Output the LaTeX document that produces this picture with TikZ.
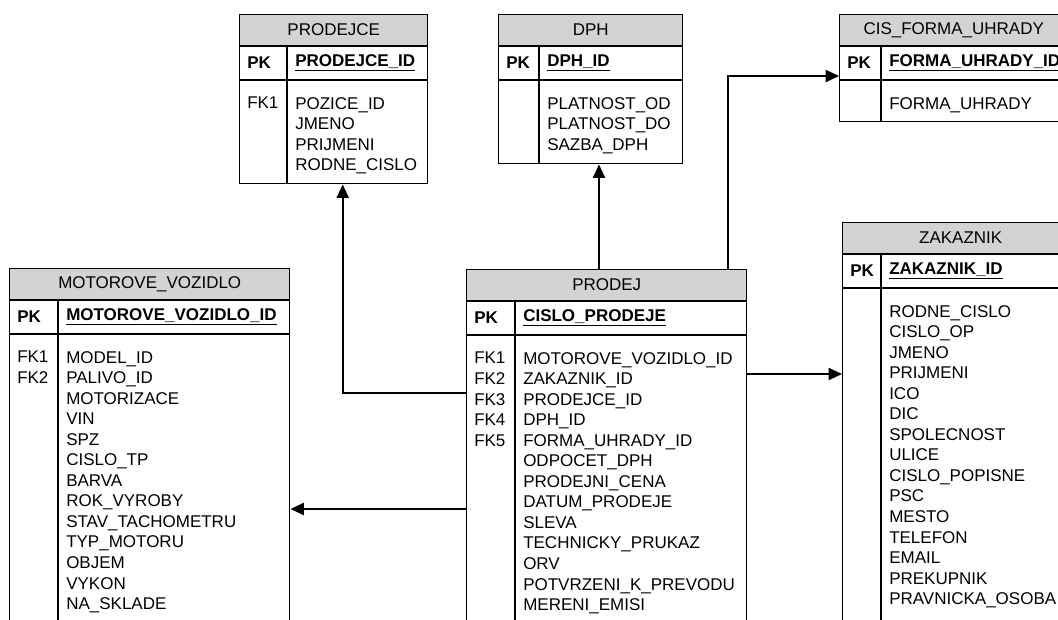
\documentclass[tikz,border=0pt]{standalone}
\usepackage{fontspec}
\setmainfont{Liberation Sans}
\usepackage{xcolor}
\usepackage{tikz}
\usetikzlibrary{calc}
\usetikzlibrary{arrows.meta}

\definecolor{headgray}{HTML}{D3D3D3}
\tikzset{
  tablebox/.style={draw, line width=1.1pt, rectangle, inner sep=0pt, anchor=north west},
  rule/.style={line width=1.1pt},
  celltext/.style={font=\fontsize{12.75}{15.4}\selectfont, inner sep=0pt},
  coltext/.style={celltext, anchor=north west, align=left},
  fk/.style={line width=1.4pt, -{Triangle[length=10pt,width=9pt]}},
}

% #1 name, #2 top left, #3 width, #4 height, #5 divider, #6 title, #7 key, #8 fk column, #9 columns
\newcommand{\ertable}[9]{%
  \fill[headgray] #2 rectangle ++(#3,32);
  \node[tablebox, minimum width=#3*0.75pt, minimum height=#4*0.75pt] (#1) at #2 {};
  \draw[rule] ($(#1.north west)+(0,32)$) -- ($(#1.north east)+(0,32)$);
  \draw[rule] ($(#1.north west)+(0,66)$) -- ($(#1.north east)+(0,66)$);
  \draw[rule] ($(#1.north west)+(#5,32)$) -- ($(#1.south west)+(#5,0)$);
  \node[celltext] (#1-title) at ($(#1.north)+(0,16)$) {#6};
  \node[celltext, anchor=west] (#1-pk) at ($(#1.north west)+(8,49)$) {\textbf{PK}};
  \node[celltext, anchor=west] (#1-key) at ($(#1.north west)+(#5+8,49)$) {\underline{\textbf{#7}}};
  \node[coltext] (#1-fk) at ($(#1.north west)+(8,83)$) {#8};
  \node[coltext] (#1-cols) at ($(#1.north west)+(#5+8,83)$) {#9};
}

\begin{document}
\begin{tikzpicture}[x=0.75pt, y=-0.75pt]
\useasboundingbox (0,0) rectangle (1058,619);
\clip (0,0) rectangle (1058,619);
% tables
\ertable{prodejce}{(239,14)}{188}{169}{48}{PRODEJCE}{PRODEJCE\_ID}{FK1}
  {POZICE\_ID\\JMENO\\PRIJMENI\\RODNE\_CISLO}
\ertable{dph}{(498,14)}{184}{149}{41}{DPH}{DPH\_ID}{}
  {PLATNOST\_OD\\PLATNOST\_DO\\SAZBA\_DPH}
\ertable{cis}{(839,14)}{228}{107}{42}{CIS\_FORMA\_UHRADY}{FORMA\_UHRADY\_ID}{}
  {FORMA\_UHRADY}
\ertable{vozidlo}{(9,268)}{280}{380}{49}{MOTOROVE\_VOZIDLO}{MOTOROVE\_VOZIDLO\_ID}{FK1\\FK2}
  {MODEL\_ID\\PALIVO\_ID\\MOTORIZACE\\VIN\\SPZ\\CISLO\_TP\\BARVA\\ROK\_VYROBY\\STAV\_TACHOMETRU\\TYP\_MOTORU\\OBJEM\\VYKON\\NA\_SKLADE}
\ertable{prodej}{(466,269)}{280}{380}{49}{PRODEJ}{CISLO\_PRODEJE}{FK1\\FK2\\FK3\\FK4\\FK5}
  {MOTOROVE\_VOZIDLO\_ID\\ZAKAZNIK\_ID\\PRODEJCE\_ID\\DPH\_ID\\FORMA\_UHRADY\_ID\\ODPOCET\_DPH\\PRODEJNI\_CENA\\DATUM\_PRODEJE\\SLEVA\\TECHNICKY\_PRUKAZ\\ORV\\POTVRZENI\_K\_PREVODU\\MERENI\_EMISI}
\ertable{zakaznik}{(842,222)}{236}{420}{39}{ZAKAZNIK}{ZAKAZNIK\_ID}{}
  {RODNE\_CISLO\\CISLO\_OP\\JMENO\\PRIJMENI\\ICO\\DIC\\SPOLECNOST\\ULICE\\CISLO\_POPISNE\\PSC\\MESTO\\TELEFON\\EMAIL\\PREKUPNIK\\PRAVNICKA\_OSOBA}
% connector ends
\coordinate (toprodejce) at ($(prodej.north west)+(0,124)$);
\coordinate (todph) at ($(prodej.north west)+(133,0)$);
\coordinate (tocis) at ($(prodej.north west)+(262,0)$);
\coordinate (tozakaznik) at ($(prodej.north east)+(0,105)$);
\coordinate (tovozidlo) at ($(prodej.north west)+(0,240)$);
% arrows
\draw[fk] (toprodejce) -| ($(prodejce.south)+(9,0)$);
\draw[fk] (todph) -- (todph |- dph.south);
\draw[fk] (tocis) |- ($(cis.north west)+(0,62)$);
\draw[fk] (tozakaznik) -- (tozakaznik -| zakaznik.west);
\draw[fk] (tovozidlo) -- (tovozidlo -| vozidlo.east);
\end{tikzpicture}
\end{document}
